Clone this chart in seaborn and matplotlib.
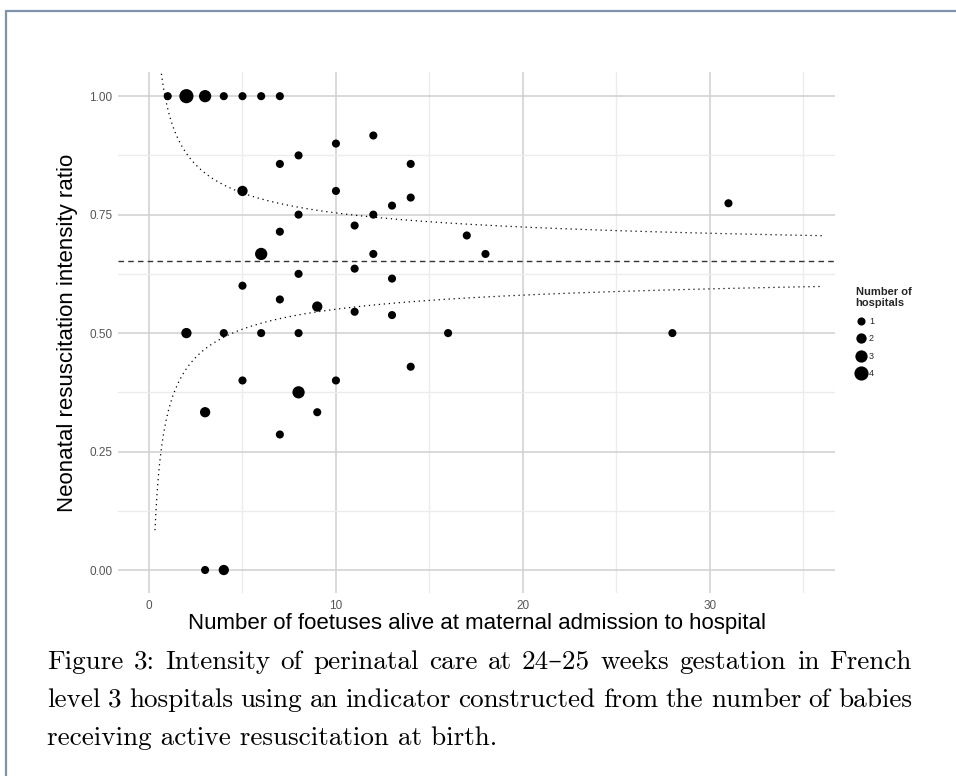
import numpy as np
import pandas as pd
import matplotlib
matplotlib.use("Agg")
import matplotlib.pyplot as plt
from matplotlib.ticker import MultipleLocator, FixedLocator
from matplotlib.lines import Line2D
import seaborn as sns

# ---------------- data ----------------
n_foetuses = [1, 2, 3, 4, 5, 6, 7,
              12, 10, 8, 7, 14, 5, 10, 14, 13, 8, 12, 31, 11, 7, 17,
              6, 12, 18, 11, 8, 13, 5, 7, 9, 11, 13,
              2, 4, 6, 8, 16, 28,
              14, 5, 10, 8, 3, 9, 7, 3, 4]
ratio = [1.0, 1.0, 1.0, 1.0, 1.0, 1.0, 1.0,
         0.917, 0.900, 0.875, 0.857, 0.857, 0.800, 0.800, 0.786, 0.769, 0.750, 0.750, 0.774, 0.727, 0.714, 0.706,
         0.667, 0.667, 0.667, 0.636, 0.625, 0.615, 0.600, 0.571, 0.556, 0.545, 0.538,
         0.500, 0.500, 0.500, 0.500, 0.500, 0.500,
         0.429, 0.400, 0.400, 0.375, 0.333, 0.333, 0.286, 0.0, 0.0]
n_hospitals = [1, 4, 3, 1, 1, 1, 1,
               1, 1, 1, 1, 1, 2, 1, 1, 1, 1, 1, 1, 1, 1, 1,
               3, 1, 1, 1, 1, 1, 1, 1, 2, 1, 1,
               2, 1, 1, 1, 1, 1,
               1, 1, 1, 3, 2, 1, 1, 1, 2]
hospital_levels = [1, 2, 3, 4]

mean_ratio = 0.652          # dashed reference line
funnel_z = 0.6745           # width of the dotted funnel limits
funnel_n_min, funnel_n_max = 0.32, 36.0

x_ticks = [0, 10, 20, 30]
y_ticks = [0.0, 0.25, 0.5, 0.75, 1.0]
y_tick_labels = ["0.00", "0.25", "0.50", "0.75", "1.00"]

x_label = "Number of foetuses alive at maternal admission to hospital"
y_label = "Neonatal resuscitation intensity ratio"
legend_title = "Number of\nhospitals"
caption_lines = [
    "Figure 3: Intensity of perinatal care at 24\u201325 weeks gestation in French",
    "level 3 hospitals using an indicator constructed from the number of babies",
    "receiving active resuscitation at birth.",
]

df = pd.DataFrame({"n": n_foetuses, "ratio": ratio, "hospitals": n_hospitals})

# ---------------- figure ----------------
sns.set_theme(style="white")
plt.rcParams["font.family"] = ["Liberation Sans", "DejaVu Sans"]

W, H = 956, 776
fig = plt.figure(figsize=(W / 100, H / 100), dpi=100)
ax = fig.add_axes([118 / W, 1 - 593 / H, (835 - 118) / W, (593 - 72) / H])

# funnel limits
nn = np.linspace(funnel_n_min, funnel_n_max, 600)
se = np.sqrt(mean_ratio * (1 - mean_ratio) / nn)
funnel = pd.DataFrame({"n": nn, "upper": mean_ratio + funnel_z * se,
                       "lower": mean_ratio - funnel_z * se})
sns.lineplot(data=funnel, x="n", y="upper", ax=ax, color="black", lw=0.9,
             linestyle=(0, (1, 3)), zorder=3)
sns.lineplot(data=funnel, x="n", y="lower", ax=ax, color="black", lw=0.9,
             linestyle=(0, (1, 3)), zorder=3)
ax.axhline(mean_ratio, color="#333333", lw=1.0, linestyle=(0, (4, 3)), zorder=3)

sizes = {1: 34, 2: 55, 3: 78, 4: 104}
sns.scatterplot(data=df, x="n", y="ratio", size="hospitals", sizes=sizes,
                size_order=hospital_levels, color="black", edgecolor="none",
                linewidth=0, ax=ax, zorder=4, legend="full")

ax.set_xlim(-1.66, 36.7)
ax.set_ylim(-0.0485, 1.051)

ax.xaxis.set_major_locator(FixedLocator(x_ticks))
ax.xaxis.set_minor_locator(MultipleLocator(5))
ax.yaxis.set_major_locator(FixedLocator(y_ticks))
ax.set_yticklabels(y_tick_labels)
ax.yaxis.set_minor_locator(MultipleLocator(0.125))
ax.grid(which="major", color="#cfcfcf", lw=1.1)
ax.grid(which="minor", color="#ececec", lw=1.0)
ax.set_axisbelow(True)
for s in ax.spines.values():
    s.set_visible(False)
ax.tick_params(which="both", length=0)
ax.tick_params(axis="x", pad=5, labelsize=8.5, labelcolor="#555555")
ax.tick_params(axis="y", pad=4, labelsize=8.5, labelcolor="#555555")
ax.set_xlabel(x_label, fontsize=16, color="black", labelpad=1)
ax.set_ylabel(y_label, fontsize=16, color="black", labelpad=8)

# legend
handles, labels = ax.get_legend_handles_labels()
pairs = [(h, l) for h, l in zip(handles, labels) if l in [str(v) for v in hospital_levels]]
ax.legend([p[0] for p in pairs], [p[1] for p in pairs], title=legend_title,
          loc="upper left", bbox_to_anchor=(851 / W, 1 - 282 / H),
          bbox_transform=fig.transFigure, frameon=False, fontsize=6.5,
          title_fontproperties={"weight": "bold", "size": 8},
          labelspacing=0.95, handletextpad=0.2, borderpad=0, alignment="left",
          handlelength=1.3)

# page frame
frame_col = "#7f93ab"
fig.add_artist(Line2D([6 / W, 6 / W], [0, 1 - 11 / H], color=frame_col, lw=1.6,
                      transform=fig.transFigure))
fig.add_artist(Line2D([6 / W, 1], [1 - 11 / H, 1 - 11 / H], color=frame_col, lw=1.6,
                      transform=fig.transFigure))

# caption (justified first two lines)
x0_px, x1_px = 47, 912
line_y = [662, 700, 738]
renderer = fig.canvas.get_renderer()
probe = fig.text(0, 0, caption_lines[0], fontsize=10, family=["cmr10", "DejaVu Serif"])
natural = probe.get_window_extent(renderer).width
probe.remove()
cap_size = 10 * (x1_px - x0_px) / natural * 0.985
cap_kw = dict(fontsize=cap_size, family=["cmr10", "DejaVu Serif"], color="black", va="center")
for i, line in enumerate(caption_lines):
    yy = 1 - line_y[i] / H
    if i < len(caption_lines) - 1:
        words = line.split(" ")
        ts = [fig.text(0, yy, w, **cap_kw) for w in words]
        widths = [t.get_window_extent(renderer).width for t in ts]
        gap = (x1_px - x0_px - sum(widths)) / (len(words) - 1)
        pos = x0_px
        for t, w in zip(ts, widths):
            t.set_x(pos / W)
            pos += w + gap
    else:
        fig.text(x0_px / W, yy, line, **cap_kw)

fig.savefig("out.png", dpi=100)
